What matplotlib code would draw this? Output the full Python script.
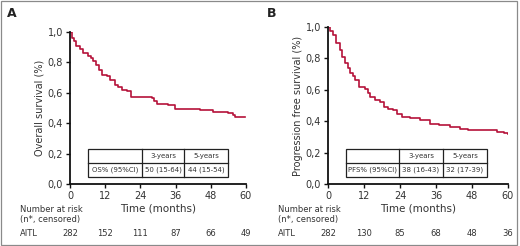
import matplotlib
matplotlib.use("Agg")
import matplotlib.pyplot as plt
from matplotlib.patches import Rectangle

# ---- data ----
os_time = [0, 0.8, 1.2, 2.0, 3.4, 4.5, 6.2, 7.0, 8.0, 9.0, 10.0, 10.8, 12.5, 13.5, 15.3, 16.5, 17.6, 19.3, 20.7, 27.8, 28.5, 29.5, 33.5, 35.8, 40.3, 44.3, 48.9, 54.0, 55.5, 56.3, 59.7]
os_surv = [1.0, 0.96, 0.94, 0.91, 0.886, 0.865, 0.84, 0.826, 0.81, 0.78, 0.75, 0.72, 0.71, 0.685, 0.65, 0.635, 0.62, 0.61, 0.572, 0.566, 0.545, 0.526, 0.52, 0.495, 0.493, 0.485, 0.472, 0.465, 0.455, 0.443, 0.439]

pfs_time = [0, 0.8, 1.7, 2.8, 4.0, 4.8, 5.7, 6.5, 7.3, 8.2, 9.0, 10.4, 12.3, 13.2, 14.0, 15.7, 17.3, 18.7, 20.0, 21.8, 23.1, 24.6, 27.3, 29.6, 30.7, 32.9, 34.0, 37.0, 40.7, 44.0, 46.8, 54.0, 56.2, 58.5, 60.0]
pfs_surv = [1.0, 0.975, 0.95, 0.90, 0.853, 0.81, 0.77, 0.74, 0.71, 0.685, 0.662, 0.616, 0.607, 0.58, 0.556, 0.535, 0.522, 0.492, 0.48, 0.471, 0.446, 0.429, 0.422, 0.418, 0.408, 0.408, 0.382, 0.375, 0.365, 0.348, 0.342, 0.342, 0.33, 0.326, 0.318]

risk_times = [0, 12, 24, 36, 48, 60]
os_risk = [282, 152, 111, 87, 66, 49]
pfs_risk = [282, 130, 85, 68, 48, 36]

os_table = ["OS% (95%CI)", "50 (15-64)", "44 (15-54)"]
pfs_table = ["PFS% (95%CI)", "38 (16-43)", "32 (17-39)"]
table_header = ["", "3-years", "5-years"]

yticks = [0.0, 0.2, 0.4, 0.6, 0.8, 1.0]
ytick_labels = ["0,0", "0,2", "0,4", "0,6", "0,8", "1,0"]

RED = "#b5123a"
TXT = "#333333"

W, H = 520, 246
fig = plt.figure(figsize=(5.2, 2.46), dpi=100)
fig.patch.set_facecolor("white")

def fx(px):
    return px / W

def fy(py):
    return 1 - py / H

# outer border
fig.patches.append(Rectangle((fx(0.5), fy(244.5)), fx(516.5), 244 / H,
                             transform=fig.transFigure, fill=False,
                             edgecolor="#8a8a8a", linewidth=0.9))

def panel(x0, x1, ytop, time, surv, ylabel, table_row, risk, label, lab_x,
          tbl, risk_x):
    ax = fig.add_axes([fx(x0), fy(184), fx(x1 - x0), (184 - ytop) / H])
    ax.step(time, surv, where="post", color=RED, linewidth=1.2)
    ax.set_xlim(0, 60)
    ax.set_ylim(0, 1.0)
    ax.set_xticks(risk_times)
    ax.set_xticklabels([str(t) for t in risk_times])
    ax.set_yticks(yticks)
    ax.set_yticklabels(ytick_labels)
    for s in ["top", "right"]:
        ax.spines[s].set_visible(False)
    for s in ["left", "bottom"]:
        ax.spines[s].set_linewidth(1.3)
        ax.spines[s].set_color("#111111")
    ax.tick_params(direction="out", length=3, width=1, color="#111111",
                   labelsize=7, labelcolor=TXT, pad=2)
    ax.set_ylabel(ylabel, fontsize=7, color=TXT, labelpad=2)
    ax.set_xlabel("Time (months)", fontsize=7.5, color=TXT, labelpad=2)
    ax.patch.set_alpha(0)

    # table
    tx0, tx1, c1, c2, ty0, ty1, ymid = tbl
    ax.add_patch(Rectangle((tx0, ty1), tx1 - tx0, ty0 - ty1, fill=True,
                           facecolor="white", edgecolor="#222222",
                           linewidth=0.9, zorder=3))
    for c in (c1, c2):
        ax.plot([c, c], [ty1, ty0], color="#222222", linewidth=0.9, zorder=4)
    ax.plot([tx0, tx1], [ymid, ymid], color="#222222", linewidth=0.9, zorder=4)
    centers = [(tx0 + c1) / 2, (c1 + c2) / 2, (c2 + tx1) / 2]
    for cx, h in zip(centers, table_header):
        ax.text(cx, (ty0 + ymid) / 2, h, ha="center", va="center",
                fontsize=5, color=TXT, zorder=5)
    for cx, v in zip(centers, table_row):
        ax.text(cx, (ymid + ty1) / 2, v, ha="center", va="center",
                fontsize=5, color=TXT, zorder=5)

    # panel label
    fig.text(fx(lab_x), fy(13.5), label, fontsize=9, fontweight="bold",
             color="#222222", va="center", ha="left")

    # number at risk
    fig.text(fx(risk_x), fy(209), "Number at risk", fontsize=6, color=TXT,
             va="center", ha="left")
    fig.text(fx(risk_x), fy(219.5), "(n*, censored)", fontsize=6, color=TXT,
             va="center", ha="left")
    fig.text(fx(risk_x), fy(233.5), "AITL", fontsize=6, color=TXT,
             va="center", ha="left")
    for t, n in zip(risk_times, risk):
        xd = ax.transData.transform((t, 0))[0]
        xf = fig.transFigure.inverted().transform((xd, 0))[0]
        fig.text(xf, fy(233.5), str(n), fontsize=6, color=TXT,
                 va="center", ha="center")
    return ax

panel(70, 246, 32, os_time, os_surv, "Overall survival (%)", os_table,
      os_risk, "A", 7, (6.1, 53.9, 24.5, 38.9, 0.23, 0.046, 0.138), 20)
panel(328, 508, 27, pfs_time, pfs_surv, "Progression free survival (%)",
      pfs_table, pfs_risk, "B", 267, (6.0, 53.0, 23.7, 38.3, 0.223, 0.045, 0.134), 278)

fig.savefig("out.png", dpi=100)
